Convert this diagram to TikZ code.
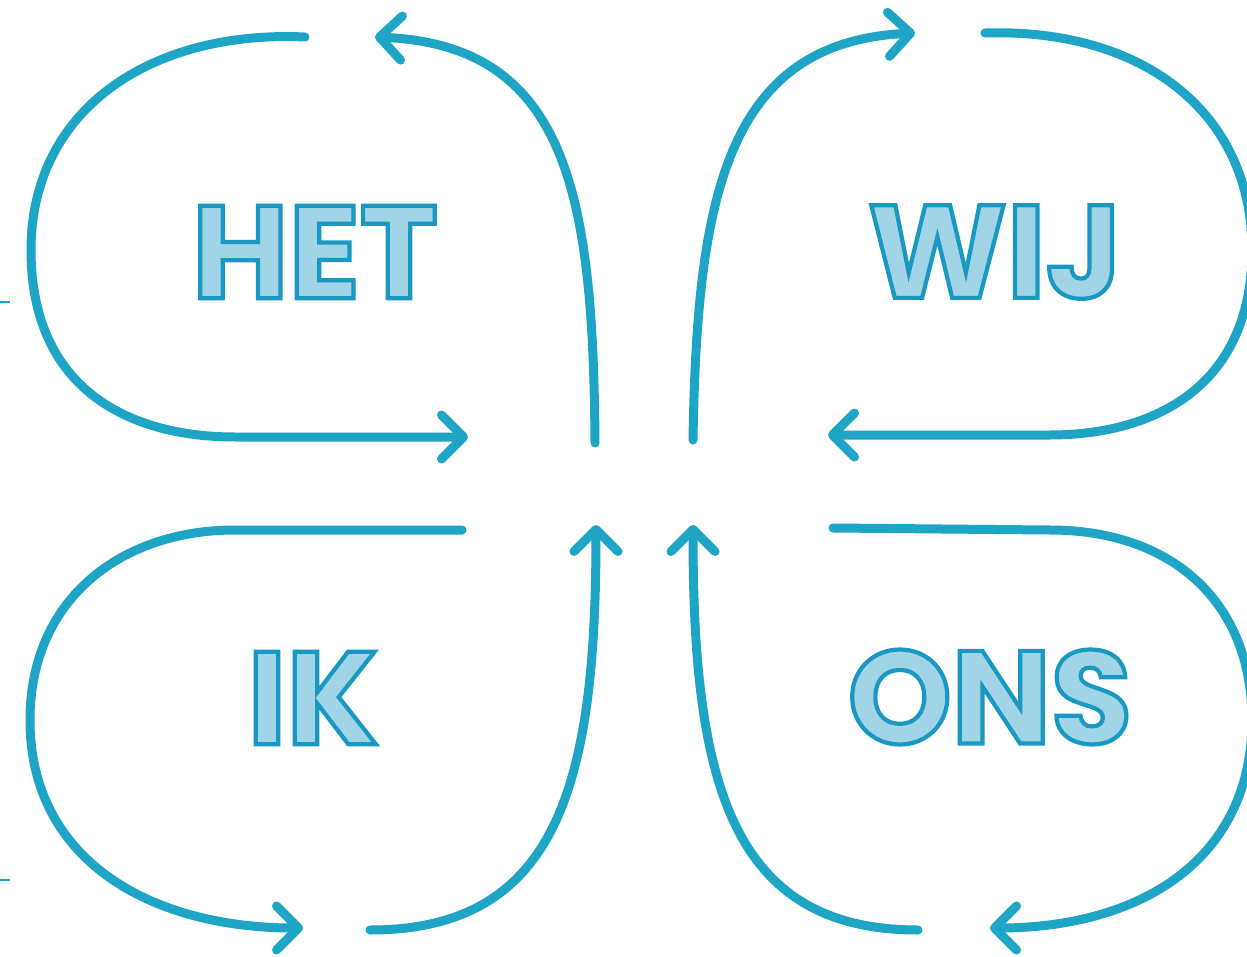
\documentclass[tikz,border=0pt]{standalone}
\usepackage{fontspec}
\usetikzlibrary{arrows.meta}
\newfontfamily\lblfont{Poppins}
\definecolor{loopc}{RGB}{30,165,198}
\definecolor{txtfill}{RGB}{160,212,230}
\newcommand\outlined[1]{\special{pdf:literal 2 Tr 4.2 w 0.10 0.60 0.76 RG}#1\special{pdf:literal 0 Tr}}
\tikzset{
  loop/.style={draw=loopc, line width=9pt, line cap=round, line join=round},
  arr/.style={loop, -{Straight Barb[length=22pt,width=44pt,line cap=round,line join=round]}},
  word/.style={font=\lblfont\bfseries\fontsize{132}{132}\selectfont, text=txtfill, inner sep=0pt},
  tick/.style={draw=loopc, line width=1.5pt}
}
\begin{document}
\begin{tikzpicture}[x=1pt,y=-1pt]
\useasboundingbox (0,0) rectangle (1247,957);
% top-left
\draw[arr] (305,37) .. controls (150,30) and (31,110) .. (31,250) .. controls (31,390) and (130,437) .. (235,437) -- (468,437);
\draw[arr] (595,443) .. controls (593,200) and (570,45) .. (375,37);
% top-right
\draw[arr] (693,440) .. controls (697,200) and (725,42) .. (915,33);
\draw[arr] (985,33) .. controls (1140,28) and (1252,110) .. (1252,250) .. controls (1252,390) and (1150,435) .. (1050,435) -- (828,435);
% bottom-left
\draw[arr] (462,530) -- (235,530) .. controls (120,530) and (30,600) .. (30,720) .. controls (30,860) and (150,928) .. (303,928);
\draw[arr] (370,930) .. controls (560,930) and (596,780) .. (596,525);
% bottom-right
\draw[arr] (918,930) .. controls (730,930) and (693,780) .. (693,525);
\draw[arr] (833,528) -- (1050,530) .. controls (1170,530) and (1252,600) .. (1252,720) .. controls (1252,860) and (1140,928) .. (990,928);
% ticks
\draw[tick] (0,302) -- (10,302);
\draw[tick] (0,880) -- (10,880);
% words
\node[word] (het) at (315,252) {\outlined{HET}};
\node[word] (wij) at (995,252) {\outlined{WIJ}};
\node[word] (ik) at (313,698) {\outlined{IK}};
\node[word] (ons) at (990,697) {\outlined{ONS}};
\end{tikzpicture}
\end{document}
